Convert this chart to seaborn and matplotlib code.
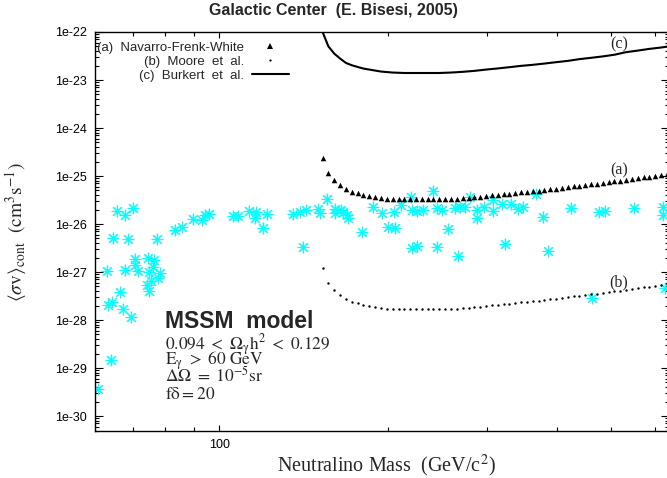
import numpy as np
import pandas as pd
import matplotlib
matplotlib.use('Agg')
import matplotlib.pyplot as plt
import seaborn as sns
from matplotlib.lines import Line2D
from matplotlib.ticker import FixedLocator, LogLocator, NullFormatter

# MSSM scan points (cyan asterisks): neutralino mass [GeV], <sigma v>_cont [cm^3 s^-1]
mssm_mass = [60.7, 63.0, 63.2, 64.0, 64.3, 64.5, 65.6, 66.4, 67.3, 67.8,
             67.8, 69.5, 70.1, 68.7, 70.6, 70.6, 71.5, 74.5, 76.4, 76.1,
             74.8, 77.3, 78.3, 77.7, 75.5, 74.2, 74.8, 83.3, 85.7, 89.7,
             93.1, 94.2, 95.8, 105.7, 107.9, 112.9, 116.2, 115.7, 121.6, 119.6,
             135.3, 139.3, 142.7, 150.0, 151.2, 155.6, 160.8, 160.8, 141.0, 164.8,
             168.9, 166.2, 169.6, 179.7, 187.9, 195.1, 205.0, 210.9, 219.8, 220.7,
             225.3, 230.9, 200.0, 205.8, 240.6, 244.6, 249.6, 255.9, 220.7, 225.3,
             244.6, 263.4, 266.7, 268.9, 274.5, 280.2, 288.4, 288.4, 296.8, 307.9,
             307.9, 319.6, 331.6, 341.2, 348.3, 367.4, 378.2, 323.6, 386.0, 424.3,
             462.6, 476.1, 488.0, 549.8, 619.4, 619.4, 624.5]
mssm_sv = [3.65e-30, 1.05e-27, 2.05e-28, 1.47e-29, 2.37e-28, 5.1e-27, 1.87e-26, 3.83e-28, 1.7e-28, 1.54e-26,
           1.1e-27, 1.15e-28, 2.15e-26, 4.87e-27, 1.87e-27, 1.4e-27, 1.05e-27, 1.96e-27, 1.78e-27, 1.27e-27,
           1.0e-27, 4.87e-27, 9.5e-28, 7.5e-28, 6.5e-28, 5.36e-28, 4.02e-28, 7.5e-27, 8.66e-27, 1.27e-26,
           1.21e-26, 1.54e-26, 1.62e-26, 1.47e-26, 1.47e-26, 1.87e-26, 1.78e-26, 1.33e-26, 1.62e-26, 8.25e-27,
           1.62e-26, 1.78e-26, 1.96e-26, 2.05e-26, 1.7e-26, 3.32e-26, 2.05e-26, 1.7e-26, 3.32e-27, 1.96e-26,
           1.54e-26, 1.78e-26, 1.33e-26, 6.8e-27, 2.26e-26, 1.7e-26, 1.78e-26, 2.49e-26, 3.65e-26, 1.96e-26,
           1.87e-26, 1.96e-26, 8.66e-27, 8.25e-27, 4.87e-26, 2.15e-26, 1.96e-26, 7.87e-27, 3.16e-27, 3.48e-27,
           3.32e-27, 2.15e-26, 2.15e-27, 2.26e-26, 2.26e-26, 3.65e-26, 1.96e-26, 1.33e-26, 2.26e-26, 1.87e-26,
           3.16e-26, 2.61e-26, 2.61e-26, 2.05e-26, 2.26e-26, 4.22e-26, 1.4e-26, 3.83e-27, 2.74e-27, 2.15e-26,
           2.87e-28, 1.78e-26, 1.87e-26, 2.15e-26, 2.26e-26, 1.54e-26, 4.64e-28]

# halo profiles (a) NFW triangles and (b) Moore dots
curve_mass = [152.9, 156.6, 160.4, 164.3, 168.3, 172.4, 176.6, 180.9, 185.3, 189.8,
              194.4, 199.1, 203.9, 208.9, 214.0, 219.2, 224.5, 229.9, 235.5, 241.2,
              247.1, 253.1, 259.2, 265.5, 272.0, 278.6, 285.3, 292.3, 299.4, 306.6,
              314.0, 321.7, 329.5, 337.5, 345.6, 354.0, 362.6, 371.4, 380.4, 389.7,
              399.1, 408.8, 418.7, 428.9, 439.3, 450.0, 460.9, 472.1, 483.5, 495.3,
              507.3, 519.6, 532.2, 545.1, 558.4, 571.9, 585.8, 600.0, 614.6, 629.5]
nfw_sv = [2.33e-25, 1.17e-25, 8.25e-26, 6.5e-26, 5.28e-26, 4.72e-26, 4.35e-26, 4.02e-26, 3.83e-26, 3.65e-26,
          3.48e-26, 3.37e-26, 3.32e-26, 3.32e-26, 3.26e-26, 3.26e-26, 3.26e-26, 3.26e-26, 3.26e-26, 3.26e-26,
          3.26e-26, 3.32e-26, 3.32e-26, 3.37e-26, 3.43e-26, 3.54e-26, 3.6e-26, 3.71e-26, 3.83e-26, 3.96e-26,
          4.02e-26, 4.15e-26, 4.28e-26, 4.43e-26, 4.57e-26, 4.72e-26, 4.8e-26, 4.95e-26, 5.11e-26, 5.28e-26,
          5.45e-26, 5.62e-26, 5.8e-26, 6.09e-26, 6.29e-26, 6.5e-26, 6.7e-26, 6.92e-26, 7.14e-26, 7.38e-26,
          7.74e-26, 8.0e-26, 8.25e-26, 8.66e-26, 8.94e-26, 9.38e-26, 9.68e-26, 1.02e-25, 1.05e-25, 1.1e-25]
moore_sv = [1.19e-27, 6.0e-28, 4.23e-28, 3.33e-28, 2.71e-28, 2.42e-28, 2.23e-28, 2.06e-28, 1.96e-28, 1.87e-28,
            1.78e-28, 1.73e-28, 1.70e-28, 1.70e-28, 1.67e-28, 1.67e-28, 1.67e-28, 1.67e-28, 1.67e-28, 1.67e-28,
            1.67e-28, 1.70e-28, 1.70e-28, 1.73e-28, 1.76e-28, 1.82e-28, 1.85e-28, 1.90e-28, 1.96e-28, 2.03e-28,
            2.06e-28, 2.13e-28, 2.19e-28, 2.27e-28, 2.34e-28, 2.42e-28, 2.46e-28, 2.54e-28, 2.62e-28, 2.71e-28,
            2.79e-28, 2.88e-28, 2.97e-28, 3.12e-28, 3.23e-28, 3.33e-28, 3.44e-28, 3.55e-28, 3.66e-28, 3.78e-28,
            3.97e-28, 4.10e-28, 4.23e-28, 4.44e-28, 4.58e-28, 4.81e-28, 4.96e-28, 5.23e-28, 5.38e-28, 5.64e-28]

# (c) Burkert solid line
burkert_mass = [152.9, 156.6, 160.4, 164.3, 168.3, 172.4, 176.6, 180.9, 185.3, 194.4,
                203.9, 214.0, 224.5, 235.5, 247.1, 259.2, 272.0, 285.3, 299.4, 314.0,
                329.5, 345.6, 362.6, 380.4, 399.1, 418.7, 439.3, 460.9, 483.5, 507.3,
                532.2, 558.4, 585.8, 614.6, 629.5]
burkert_sv = [1.0e-22, 5.0e-23, 3.55e-23, 2.8e-23, 2.27e-23, 2.03e-23, 1.87e-23, 1.73e-23, 1.65e-23, 1.5e-23,
              1.43e-23, 1.40e-23, 1.40e-23, 1.40e-23, 1.40e-23, 1.43e-23, 1.48e-23, 1.55e-23, 1.65e-23, 1.74e-23,
              1.85e-23, 1.97e-23, 2.07e-23, 2.2e-23, 2.35e-23, 2.5e-23, 2.72e-23, 2.9e-23, 3.1e-23, 3.36e-23,
              3.8e-23, 4.1e-23, 4.45e-23, 4.75e-23, 4.95e-23]

legend_labels = ['(a)  Navarro-Frenk-White', '(b)  Moore  et  al.', '(c)  Burkert  et  al.']
ytick_vals = [1e-30, 1e-29, 1e-28, 1e-27, 1e-26, 1e-25, 1e-24, 1e-23, 1e-22]
ytick_labels = ['1e-30', '1e-29', '1e-28', '1e-27', '1e-26', '1e-25', '1e-24', '1e-23', '1e-22']
xtick_major = [100]
xtick_minor = [70, 80, 90, 200, 300, 400, 500, 600]

sns.set_theme(style='ticks')
plt.rcParams['font.family'] = ['Liberation Sans', 'DejaVu Sans']
plt.rcParams['mathtext.fontset'] = 'stix'
serif = ['Liberation Serif', 'DejaVu Serif']

W, H = 667, 478
fig = plt.figure(figsize=(W / 100, H / 100), dpi=100)
ax = fig.add_axes([95 / W, 47.5 / H, 574 / W, 398.5 / H])
ax.set_xscale('log')
ax.set_yscale('log')

sns.scatterplot(x=mssm_mass, y=mssm_sv, marker=(8, 2, 0), color='#00ffff',
                s=60, linewidth=0.8, ax=ax, zorder=2)
sns.scatterplot(x=curve_mass, y=nfw_sv, marker='^', color='black', s=16,
                linewidth=0, ax=ax, zorder=3)
sns.scatterplot(x=curve_mass, y=moore_sv, marker='o', color='black', s=3,
                linewidth=0, ax=ax, zorder=3)
sns.lineplot(x=burkert_mass, y=burkert_sv, color='black', linewidth=1.5,
             estimator=None, sort=False, ax=ax, zorder=3)

ax.set_xlim(60, 635)
ax.set_ylim(5e-31, 1e-22)

ax.xaxis.set_major_locator(FixedLocator(xtick_major))
ax.set_xticklabels(['100'])
ax.xaxis.set_minor_locator(FixedLocator(xtick_minor))
ax.xaxis.set_minor_formatter(NullFormatter())
ax.set_yticks(ytick_vals)
ax.set_yticklabels(ytick_labels)
ax.yaxis.set_minor_locator(LogLocator(base=10, subs=np.arange(2, 10), numticks=30))
ax.yaxis.set_minor_formatter(NullFormatter())
ax.tick_params(which='both', direction='in', top=True, right=True, color='black',
               width=0.8, labelsize=9, labelcolor='black')
ax.tick_params(which='major', length=6, pad=6)
ax.tick_params(which='minor', length=3)
ax.tick_params(axis='x', which='major', length=4)
for sp in ax.spines.values():
    sp.set_color('black')
    sp.set_linewidth(1.0)
ax.set_xlabel('')
ax.set_ylabel('')

# curve labels
ax.text(517, 1.33e-25, '(a)', family=serif, fontsize=11.5, ha='center', va='center')
ax.text(517, 6.2e-28, '(b)', family=serif, fontsize=11.5, ha='center', va='center')
ax.text(517, 5.6e-23, '(c)', family=serif, fontsize=11.5, ha='center', va='center')

handles = [Line2D([], [], marker='^', ls='none', color='black', ms=4.5, mew=0),
           Line2D([], [], marker='o', ls='none', color='black', ms=1.6, mew=0),
           Line2D([], [], color='black', lw=1.5)]
ax.legend(handles, legend_labels, loc='upper left', bbox_to_anchor=(0.0035, 0.976),
          markerfirst=False, frameon=False, fontsize=9.5, borderpad=0, borderaxespad=0,
          handlelength=2.8, handletextpad=0.6, labelspacing=0.13)

# annotation block
fig.text(165 / W, 1 - 328 / H, 'MSSM  model', fontsize=16.5, fontweight='bold', va='baseline')
fig.text(165 / W, 1 - 350 / H, r'$\mathrm{0.094\ <\ \Omega_{\gamma}h^{2}\ <\ 0.129}$',
         fontsize=12.5, va='baseline')
fig.text(165 / W, 1 - 365 / H, r'$\mathrm{E_{\gamma}\ >\ 60\ GeV}$', fontsize=12.5, va='baseline')
fig.text(165 / W, 1 - 382 / H, r'$\mathrm{\Delta\Omega\ =\ 10^{-5}sr}$', fontsize=12.5, va='baseline')
fig.text(165 / W, 1 - 399 / H, r'$\mathrm{f\delta = 20}$', fontsize=12.5, va='baseline')

fig.text(0.5, 1 - 10 / H, 'Galactic Center  (E. Bisesi, 2005)', fontsize=11.5,
         fontweight='bold', ha='center', va='center')
fig.text(386 / W, 1 - 466 / H, r'Neutralino Mass  (GeV/c$^{2}$)', family=serif,
         fontsize=14.5, ha='center', va='center')
fig.text(16 / W, 1 - 232 / H, r'$\langle\sigma\mathrm{v}\rangle_{\mathrm{cont}}\ \ (\mathrm{cm^{3}s^{-1}})$',
         fontsize=14, rotation=90, ha='center', va='center')

fig.savefig('out.png', dpi=100)
